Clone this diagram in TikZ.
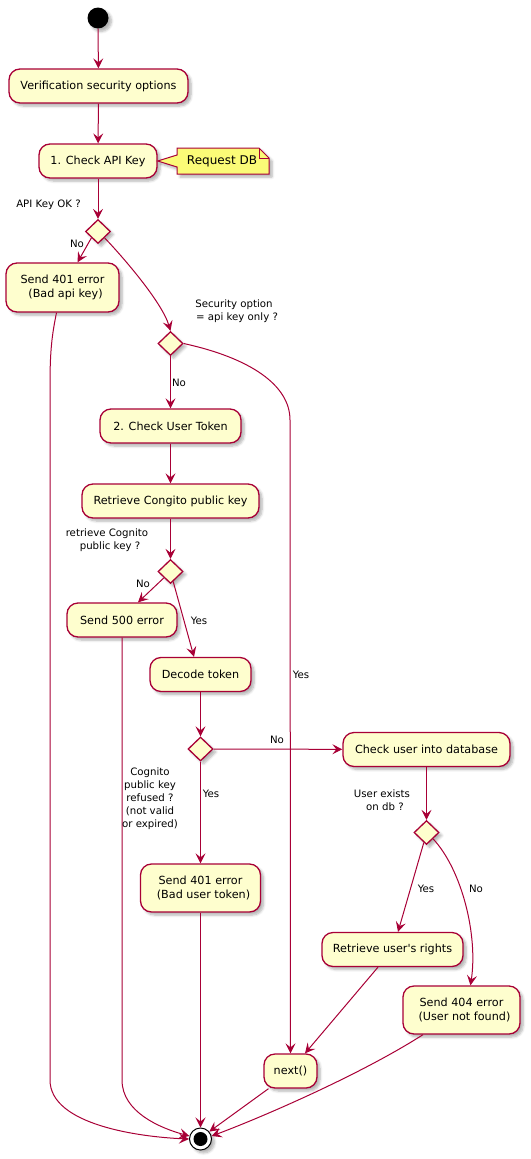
\documentclass[tikz,border=0pt]{standalone}
\usepackage{fontspec}
\setmainfont{DejaVu Sans}
\usetikzlibrary{arrows.meta,shapes.geometric,shadows.blur}
\definecolor{pred}{HTML}{A80036}
\definecolor{pfill}{HTML}{FEFECE}
\definecolor{pnote}{HTML}{FBFB77}
\begin{document}
\begin{tikzpicture}[x=1pt,y=-1pt,
  shd/.style={blur shadow={shadow xshift=3pt,shadow yshift=-3pt,shadow blur steps=6,shadow opacity=30,shadow blur radius=2.5pt}},
  act/.style={draw=pred,fill=pfill,line width=1.3pt,rounded corners=11pt,inner sep=0pt,minimum height=34pt,align=center,font=\fontsize{11.2}{14}\selectfont,shd},
  dec/.style={diamond,draw=pred,fill=pfill,line width=1.3pt,inner sep=0pt,minimum width=25pt,minimum height=24pt,shd},
  lbl/.style={font=\fontsize{10.2}{13}\selectfont,align=center,inner sep=0pt},
  arr/.style={draw=pred,line width=1pt,-{Stealth[length=10pt,width=10pt,inset=4pt]}}
]
\useasboundingbox (0,0) rectangle (530,1159);

% start / end
\node[circle,fill=black,minimum size=21pt,inner sep=0pt,shd] (start) at (98,18) {};
\node[circle,draw=black,line width=1pt,fill=white,minimum size=22pt,inner sep=0pt,shd] (end) at (200.5,1139) {};
\node[circle,fill=black,minimum size=14pt,inner sep=0pt] (endin) at (end) {};

% activities
\node[act,minimum width=179pt] (verif) at (98.5,86) {Verification security options};
\node[act,minimum width=118pt] (api) at (98,161) {1. Check API Key};
\node[act,minimum width=113pt,minimum height=49pt] (s401a) at (62.5,287.5) {Send 401 error\\\hspace*{6pt}(Bad api key)};
\node[act,minimum width=141pt] (cut) at (170.5,426) {2. Check User Token};
\node[act,minimum width=177pt] (rck) at (170.5,501) {Retrieve Congito public key};
\node[act,minimum width=110pt] (s500) at (122,620) {Send 500 error};
\node[act,minimum width=101pt] (decode) at (200.5,674.5) {Decode token};
\node[act,minimum width=167pt] (cud) at (426.5,749.5) {Check user into database};
\node[act,minimum width=120pt,minimum height=48pt] (s401b) at (200.5,888) {Send 401 error\\\hspace*{6pt}(Bad user token)};
\node[act,minimum width=141pt] (rur) at (392.5,949.5) {Retrieve user\textquotesingle s rights};
\node[act,minimum width=117pt,minimum height=48pt] (s404) at (461.5,1010) {Send 404 error\\\hspace*{6pt}(User not found)};
\node[act,minimum width=53pt] (next) at (290.5,1071) {next()};

% decisions
\node[dec] (d1) at (98,231.5) {};
\node[dec] (d2) at (170.5,343.5) {};
\node[dec] (d3) at (170.5,571.5) {};
\node[dec] (d4) at (200.5,749) {};
\node[dec] (d5) at (426.5,832.5) {};

% note
\draw[draw=pred,fill=pnote,line width=1pt,shd] (177,148) -- (259,148) -- (269,158) -- (269,174) -- (177,174) -- (177,167) -- (api.east) -- (177,155) -- cycle;
\draw[draw=pred,line width=1pt] (259,148) -- (259,158) -- (269,158);
\node[font=\fontsize{12}{14}\selectfont,inner sep=0pt] (note) at (222,161) {Request DB};

% connectors
\draw[arr] (start) -- (verif);
\draw[arr] (verif) -- (api);
\draw[arr] (api) -- (d1);
\draw[arr] (d1.south west) -- ([xshift=15pt]s401a.north);
\draw[arr] (d1.south east) .. controls (122,256) and (162,302) .. (d2.north);
\draw[arr] (d2) -- (cut);
\draw[arr] (d2.east) .. controls (250,358) and (290,385) .. (290,420) -- (next.north);
\draw[arr] (cut) -- (rck);
\draw[arr] (rck) -- (d3);
\draw[arr] (d3.south west) -- ([xshift=16pt]s500.north);
\draw[arr] (d3.-75) -- ([xshift=-6.5pt]decode.north);
\draw[arr] (decode) -- (d4);
\draw[arr] (d4) -- (cud);
\draw[arr] (d4) -- (s401b);
\draw[arr] (cud) -- (d5);
\draw[arr] (d5.-105) -- ([xshift=5.5pt]rur.north);
\draw[arr] (d5.south east) .. controls (462,870) and (478,935) .. ([xshift=9pt]s404.north);
\draw[arr] ([xshift=-14.5pt]rur.south) -- ([xshift=14.5pt]next.north);
\draw[arr] ([xshift=-22pt]next.south) -- (end.40);
\draw[arr] ([xshift=-38.5pt]s404.south) .. controls (360,1075) and (260,1118) .. (end.15);
\draw[arr] (s401b.south) -- (end.north);
\draw[arr] ([xshift=-6pt]s401a.south) .. controls (52,335) and (50,350) .. (50,385) -- (50,1080) .. controls (50,1125) and (140,1137) .. (end.180);
\draw[arr] (s500.south) -- (122,1080) .. controls (122,1112) and (160,1128) .. (end.165);

% labels
\node[lbl] (l1) at (48.5,205) {API Key OK ?};
\node[lbl] (l2) at (77,244) {No};
\node[lbl] (l3) at (234,311) {Security option\\\hspace*{6pt}= api key only ?};
\node[lbl] (l4) at (179,383) {No};
\node[lbl] (l5) at (107,540) {retrieve Cognito\\\hspace*{6pt}public key ?};
\node[lbl] (l6) at (143,584) {No};
\node[lbl] (l7) at (199,621) {Yes};
\node[lbl] (l8) at (301,675) {Yes};
\node[lbl] (l9) at (277,740) {No};
\node[lbl] (l10) at (211,794) {Yes};
\node[lbl] (l11) at (150,799) {Cognito\\public key\\refused ?\\(not valid\\or expired)};
\node[lbl] (l12) at (382,800) {User exists\\\hspace*{6pt}on db ?};
\node[lbl] (l13) at (426,889) {Yes};
\node[lbl] (l14) at (476,889) {No};
\end{tikzpicture}
\end{document}
